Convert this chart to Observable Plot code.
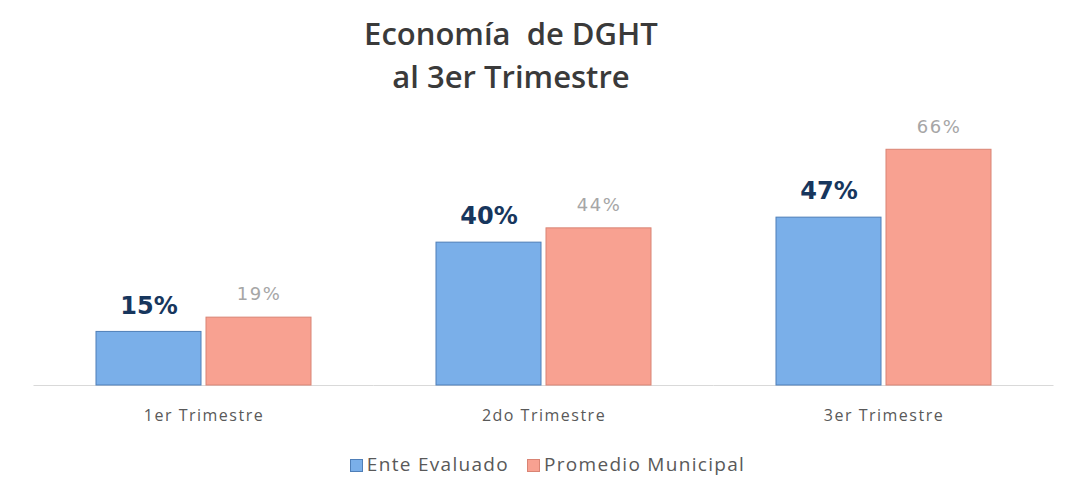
<!DOCTYPE html>
<html>
<head>
<meta charset="utf-8">
<script src="https://cdn.jsdelivr.net/npm/d3@7"></script>
<script src="https://cdn.jsdelivr.net/npm/@observablehq/plot@0.6"></script>
<style>
  body { margin: 0; background: #ffffff; width: 1068px; height: 500px; overflow: hidden; }
  #title { width: 1022px; height: 105px; text-align: center; font-family: "Open Sans", sans-serif; font-weight: 600; font-size: 31px; color: #3a3a3a; line-height: 43px; padding-top: 12px; box-sizing: border-box; }
  #legend { width: 1095px; text-align: center; font-family: "Open Sans", sans-serif; font-size: 19px; letter-spacing: 1.3px; color: #595959; margin-top: 11px; }
  #legend span.sw { display: inline-block; width: 11px; height: 11px; margin-right: 4px; vertical-align: -1px; }
  #legend span.item { margin: 0 9px; }
  .vlab text { letter-spacing: 1.5px; }
  .fxlab text { letter-spacing: 1.5px; }
</style>
</head>
<body>
<div id="title">Economía&nbsp; de DGHT<br>al 3er Trimestre</div>
<div id="chart"></div>
<div id="legend"></div>
<script>
const quarters = ["1er Trimestre", "2do Trimestre", "3er Trimestre"];
const series = ["Ente Evaluado", "Promedio Municipal"];
const ente = [15, 40, 47];
const promedio = [19, 44, 66];

const fills = ["#7aafe9", "#f8a191"];
const strokes = ["#4f7fb8", "#d98474"];

const data = [];
quarters.forEach((q, i) => {
  data.push({quarter: q, series: series[0], value: ente[i]});
  data.push({quarter: q, series: series[1], value: promedio[i]});
});

const chart = Plot.plot({
  width: 1068,
  height: 335,
  marginLeft: 33,
  marginRight: 15,
  marginTop: 30,
  marginBottom: 55,
  fx: {domain: quarters, paddingInner: 0.368, paddingOuter: 0.184, label: null, axis: null},
  x: {domain: series, paddingInner: 0.05, paddingOuter: 0, axis: null},
  y: {domain: [0, 70], axis: null},
  color: {domain: series, range: fills},
  marks: [
    Plot.ruleY([0], {stroke: "#d9d9d9", strokeWidth: 1, insetLeft: -62.5, insetRight: -62.5}),
    Plot.barY(data, {fx: "quarter", x: "series", y: "value", fill: "series", stroke: d => strokes[series.indexOf(d.series)], strokeWidth: 1}),
    Plot.text(data.filter(d => d.series === series[0]), {fx: "quarter", x: "series", y: "value", text: d => d.value + "%", dy: -26, fill: "#17365d", fontSize: 24, fontWeight: "bold", fontFamily: "Verdana, DejaVu Sans, sans-serif"}),
    Plot.text(data.filter(d => d.series === series[1]), {fx: "quarter", x: "series", y: "value", text: d => d.value + "%", dy: -23, fill: "#a6a6a6", fontSize: 18, className: "vlab", fontFamily: "DejaVu Sans, sans-serif"}),
    Plot.axisFx({anchor: "bottom", tickSize: 0, tickPadding: 24, fontSize: 16, fill: "#595959", className: "fxlab", fontFamily: "Open Sans, sans-serif", label: null})
  ],
  style: {background: "transparent", fontFamily: "Open Sans, sans-serif"}
});
document.getElementById("chart").appendChild(chart);

const legend = document.getElementById("legend");
series.forEach((s, i) => {
  const item = document.createElement("span");
  item.className = "item";
  const sw = document.createElement("span");
  sw.className = "sw";
  sw.style.background = fills[i];
  sw.style.border = "1px solid " + strokes[i];
  item.appendChild(sw);
  item.appendChild(document.createTextNode(s));
  legend.appendChild(item);
});
</script>
</body>
</html>
